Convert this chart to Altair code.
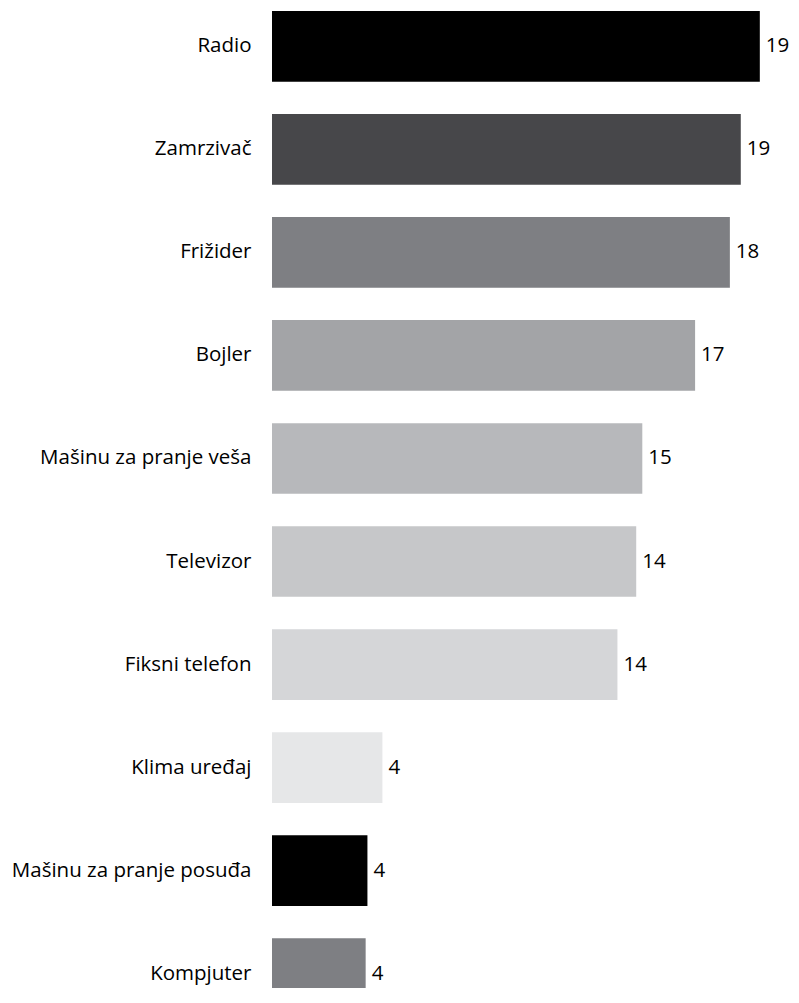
import altair as alt
import pandas as pd

categories = [
    "Radio",
    "Zamrzivač",
    "Frižider",
    "Bojler",
    "Mašinu za pranje veša",
    "Televizor",
    "Fiksni telefon",
    "Klima uređaj",
    "Mašinu za pranje posuđa",
    "Kompjuter",
]
values = [19.22, 18.47, 18.04, 16.67, 14.59, 14.35, 13.61, 4.35, 3.76, 3.69]
labels = ["19", "19", "18", "17", "15", "14", "14", "4", "4", "4"]

bar_colors = [
    "#000000",
    "#47474a",
    "#7e7f83",
    "#a3a4a7",
    "#b7b8bb",
    "#c6c7c9",
    "#d5d6d8",
    "#e6e7e8",
    "#000000",
    "#7e7f83",
]

df = pd.DataFrame({"category": categories, "value": values, "label": labels})

FONT = "Open Sans"

y = alt.Y(
    "category:N",
    sort=categories,
    title=None,
    scale=alt.Scale(paddingInner=0.314, paddingOuter=0.029, range=[0, 1004]),
    axis=alt.Axis(
        ticks=False,
        domain=False,
        grid=False,
        labelPadding=21,
        labelFontSize=20.5,
        labelFont=FONT,
        labelColor="#000000",
        labelLimit=400,
    ),
)
x = alt.X("value:Q", scale=alt.Scale(domain=[0, 19.7], nice=False, zero=True), axis=None)

bars = alt.Chart(df).mark_bar(clip=True).encode(
    x=x,
    y=y,
    color=alt.Color(
        "category:N",
        scale=alt.Scale(domain=categories, range=bar_colors),
        legend=None,
    ),
)

text = alt.Chart(df).mark_text(
    align="left", baseline="middle", dx=6, font=FONT, fontSize=20.5, color="#000000"
).encode(x=x, y=y, text="label:N")

chart = (
    (bars + text)
    .properties(
        width=500,
        height=980,
        padding={"left": 264, "top": 0, "right": 19, "bottom": 0},
        autosize=alt.AutoSizeParams(type="none"),
        background="#ffffff",
    )
    .configure_view(stroke=None)
)

chart.save("out.html", embed_options={"renderer": "svg", "actions": False})
